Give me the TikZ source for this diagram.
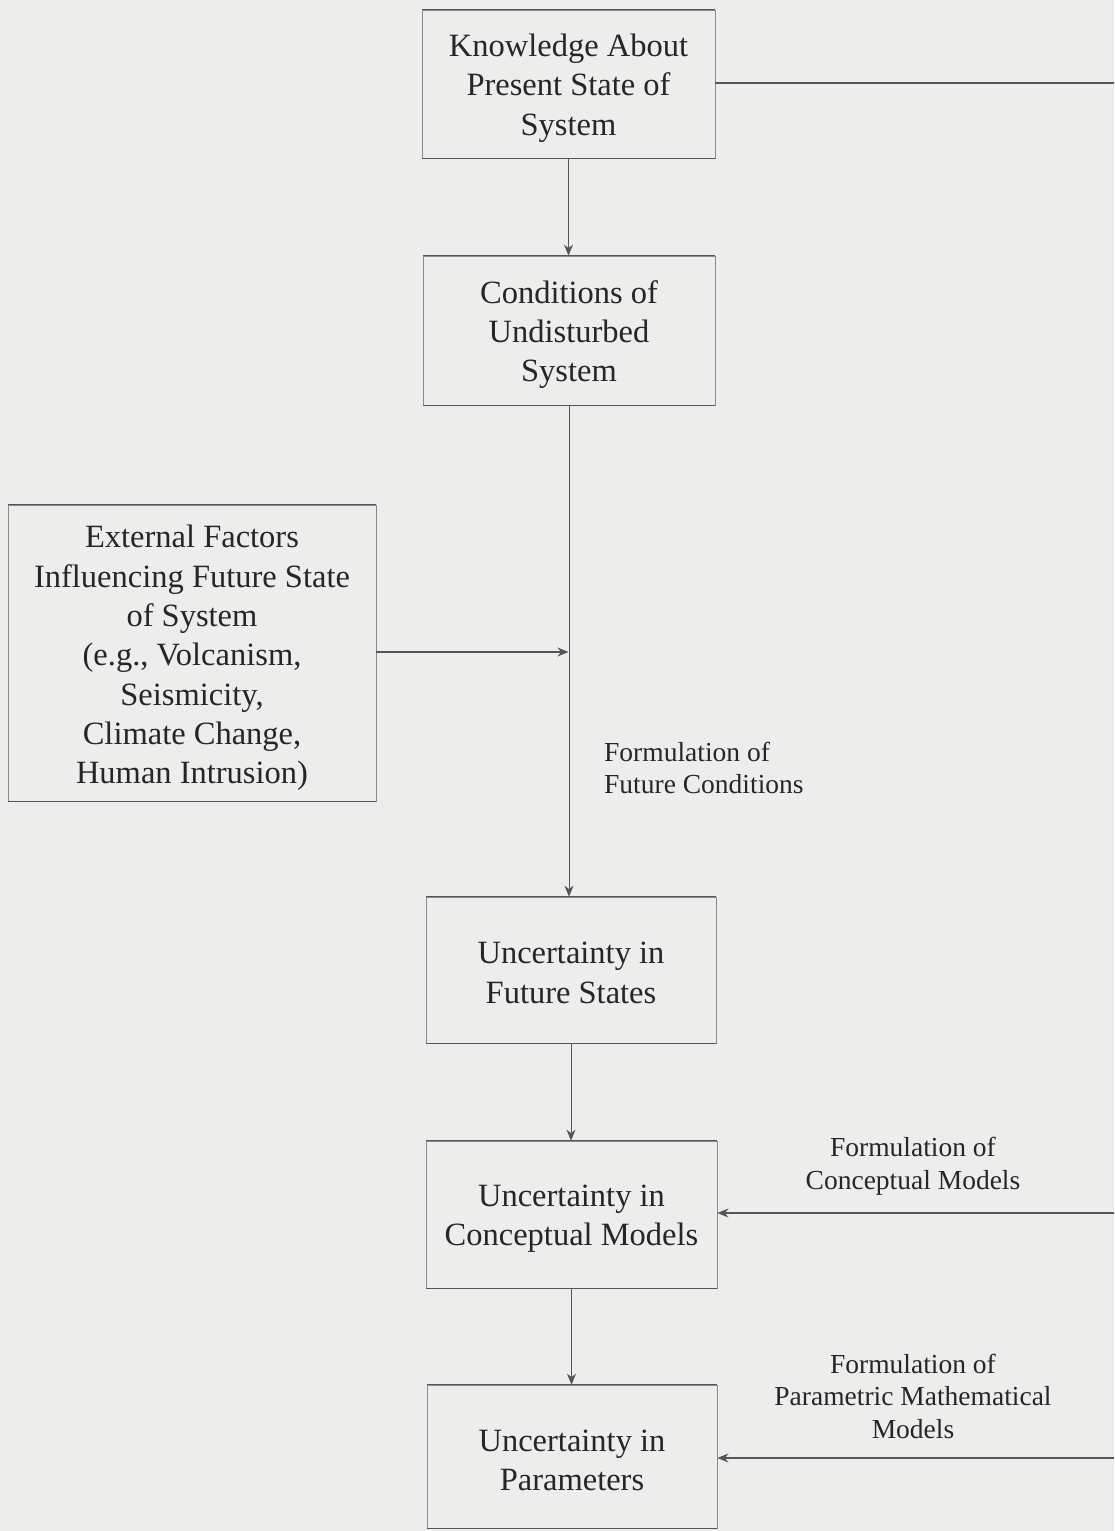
\documentclass[tikz,border=0pt]{standalone}
\usepackage{fontspec}
\setmainfont{Liberation Serif}
\usetikzlibrary{arrows.meta}
\definecolor{paper}{HTML}{EDEDEB}
\definecolor{ink}{HTML}{262626}
\definecolor{rule}{HTML}{555555}
\definecolor{siderule}{HTML}{8A8A8A}
\tikzset{
  every picture/.style={x=1pt,y=-1pt},
  boxnode/.style={draw=siderule, line width=0.8pt, inner sep=0pt},
  boxtext/.style={inner sep=0pt, align=center, text=ink,
    font=\fontsize{32.5}{39.3}\selectfont},
  edgerule/.style={draw=rule, line width=1.6pt},
  flow/.style={draw=rule, line width=0.8pt, -{Stealth[length=11pt,width=9pt]}},
  plain/.style={draw=rule, line width=1.3pt},
  sidearrow/.style={draw=rule, line width=1.3pt, -{Stealth[length=11pt,width=9pt]}},
  lbl/.style={text=ink, inner sep=0pt, font=\fontsize{27.5}{32.5}\selectfont}
}
% a box whose top and bottom edges are heavier than its sides, with its text
\newcommand{\flowbox}[6]{%
  \node[boxnode, minimum width=#3pt, minimum height=#4pt] (#1) at (#2) {};
  \draw[edgerule] (#1.north west) -- (#1.north east);
  \draw[edgerule] (#1.south west) -- (#1.south east);
  \node[boxtext] (#1-text) at ([yshift=-#5pt]#1.center) {#6};}
\begin{document}
\begin{tikzpicture}
\useasboundingbox (0,0) rectangle (1114,1531);
\fill[paper] (0,0) rectangle (1114,1531);

% boxes of the chain
\flowbox{know}{568.5,84}{293}{148}{4}{Knowledge About\\Present State of\\System}
\flowbox{cond}{569,330.5}{292}{149}{4}{Conditions of\\Undisturbed\\System}
\flowbox{ext}{192,653}{368}{296}{5}{External Factors\\Influencing Future State\\of System\\(e.g., Volcanism,\\Seismicity,\\Climate Change,\\Human Intrusion)}
\flowbox{fut}{571,970}{290}{146}{3}{Uncertainty in\\Future States}
\flowbox{conc}{571.5,1214.5}{291}{147}{4.5}{Uncertainty in\\Conceptual Models}
\flowbox{par}{572,1456.5}{290}{143}{4}{Uncertainty in\\Parameters}

% free ends at the right margin and the junction on the vertical flow
\coordinate (kr) at (1114,83);
\coordinate (cr) at (1114,1213);
\coordinate (pr) at (1114,1458);
\coordinate (jn) at (568.5,652);

% connectors
\draw[plain] (know.east |- kr) -- (kr);
\draw[flow] (know.south) -- (cond.north -| know.south);
\draw[flow] (cond.south) -- (cond.south |- fut.north);
\draw[sidearrow] (ext.east |- jn) -- (jn);
\draw[flow] (fut.south) -- (fut.south |- conc.north);
\draw[flow] (conc.south) -- (conc.south |- par.north);
\draw[sidearrow] (cr) -- (conc.east |- cr);
\draw[sidearrow] (pr) -- (par.east |- pr);

% labels on the connectors
\node[lbl, anchor=west, align=left] (lfut) at (604,768)
  {Formulation of\\Future Conditions};
\node[lbl, align=center] (lconc) at (913,1166)
  {Formulation of\\Conceptual Models};
\node[lbl, align=center] (lpar) at (913,1396)
  {Formulation of\\Parametric Mathematical\\Models};
\end{tikzpicture}
\end{document}
